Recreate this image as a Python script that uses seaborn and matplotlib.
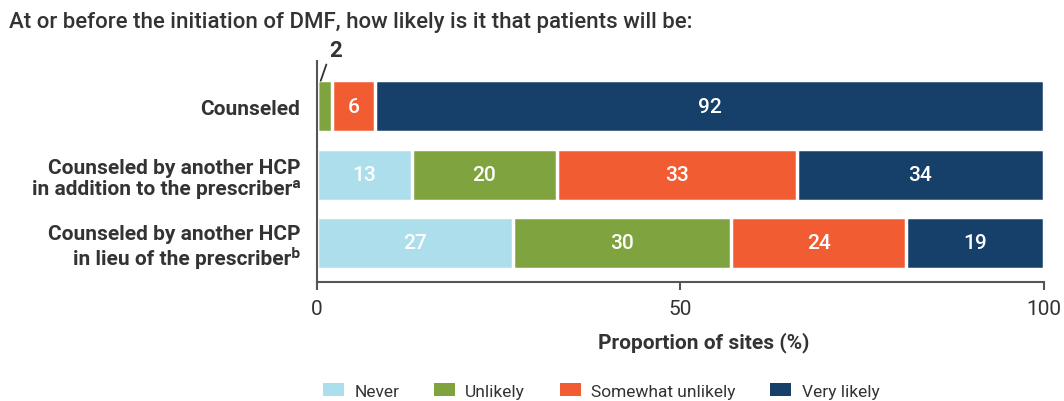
import matplotlib
matplotlib.use("Agg")
import matplotlib.pyplot as plt
import seaborn as sns
import pandas as pd
import numpy as np
from matplotlib.patches import Patch

# Data
rows = ["Counseled",
        "Counseled by another HCP\nin addition to the prescriber\u1d43",
        "Counseled by another HCP\nin lieu of the prescriber\u1d47"]
levels = ["Never", "Unlikely", "Somewhat unlikely", "Very likely"]
never = [0, 13, 27]
unlikely = [2, 20, 30]
somewhat = [6, 33, 24]
very_likely = [92, 34, 19]
colors = ["#addeec", "#7fa33e", "#f25c33", "#163f69"]

df = pd.DataFrame({"row": rows, "Never": never, "Unlikely": unlikely,
                   "Somewhat unlikely": somewhat, "Very likely": very_likely})
cum = df[levels].cumsum(axis=1)

sns.set_style("white")
plt.rcParams["font.family"] = ["Roboto", "DejaVu Sans"]
txt = "#333333"

fig = plt.figure(figsize=(10.64, 4.02), dpi=100)
ax = fig.add_axes([0.298, 0.296, 0.683, 0.55])

# stacked bars: draw cumulative totals from the largest down
for lvl, col in reversed(list(zip(levels, colors))):
    sns.barplot(x=cum[lvl], y=df["row"], order=rows, color=col, orient="h",
                saturation=1, width=0.76, edgecolor="white", linewidth=2.5, ax=ax)

# segment labels
for i in range(len(rows)):
    start = 0
    for lvl in levels:
        v = df.loc[i, lvl]
        if v >= 5:
            ax.text(start + v / 2, i, str(v), ha="center", va="center",
                    color="white", fontsize=15, fontweight="medium")
        start += v

# small value callout
ax.annotate(str(unlikely[0]), xy=(0.5, -0.37),
            xytext=(6, 22), textcoords="offset points", fontsize=16,
            fontweight="bold", color=txt, ha="left", va="center",
            arrowprops=dict(arrowstyle="-", color=txt, lw=1.3, shrinkA=0, shrinkB=0,
                            relpos=(0, 0.2)))

ax.set_xlim(0, 100)
ax.set_ylim(2.57, -0.66)
ax.set_xticks([0, 50, 100])
ax.tick_params(axis="x", length=6, width=1.5, color="#555555", labelsize=15,
               labelcolor=txt, pad=6, bottom=True)
ax.tick_params(axis="y", length=0, labelsize=15, labelcolor=txt, pad=12)
for lab in ax.get_yticklabels():
    lab.set_fontweight("bold")
    lab.set_horizontalalignment("right")
    lab.set_linespacing(1.15)
ax.set_ylabel("")
ax.set_xlabel("Proportion of sites (%)", fontsize=15, fontweight="bold",
              color=txt, labelpad=10, x=0.532)
sns.despine(ax=ax, top=True, right=True)
for s in ["left", "bottom"]:
    ax.spines[s].set_color("#555555")
    ax.spines[s].set_linewidth(1.5)

fig.text(0.008, 0.945, "At or before the initiation of DMF, how likely is it that patients will be:",
         fontsize=16, fontweight="medium", color=txt, ha="left", va="center")

handles = [Patch(facecolor=c, edgecolor="none") for c in colors]
fig.legend(handles, levels, loc="center", bbox_to_anchor=(0.565, 0.025), ncol=4,
           frameon=False, fontsize=12.5, handlelength=1.2, handleheight=0.7,
           columnspacing=2.0, handletextpad=0.6, labelcolor=txt)

fig.savefig("out.png", dpi=100)
